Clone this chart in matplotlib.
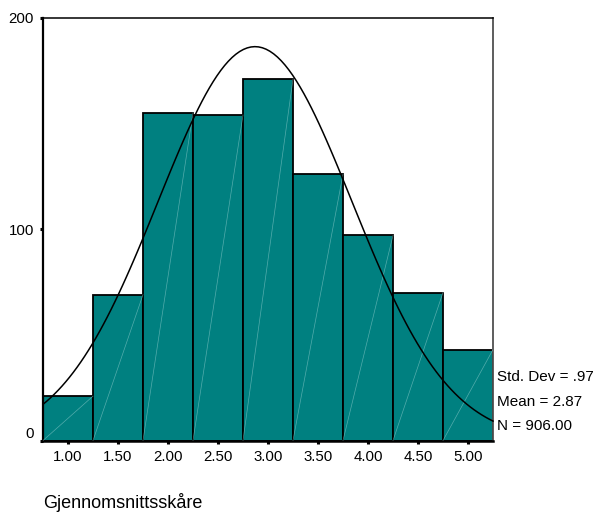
import numpy as np
import matplotlib.pyplot as plt
import matplotlib.transforms as mtransforms

plt.rcParams['font.family'] = ['Liberation Sans', 'DejaVu Sans']

# histogram counts per score bin (bin width 0.5)
bin_centers = [1.00, 1.50, 2.00, 2.50, 3.00, 3.50, 4.00, 4.50, 5.00]
counts = [21, 69, 155, 154, 171, 126, 97, 70, 43]
tick_labels = ['1.00', '1.50', '2.00', '2.50', '3.00', '3.50', '4.00', '4.50', '5.00']
y_ticks = [0, 100, 200]
mean = 2.87
std_dev = 0.97
n_total = 906
bin_width = 0.5

fig = plt.figure(figsize=(5.97, 5.14), dpi=100)
ax = fig.add_axes([43 / 597, 73.5 / 514, 450 / 597, 422.8 / 514])

ax.bar(bin_centers, counts, width=bin_width, color='#008080',
       edgecolor='black', linewidth=1.3, zorder=2)

# faint diagonal streaks inside each bar
for c, h in zip(bin_centers, counts):
    ax.plot([c - bin_width / 2, c + bin_width / 2], [0, h], color='#8ccaca',
            lw=0.5, alpha=0.6, zorder=3)

# fitted normal curve scaled to counts
x = np.linspace(0.75, 5.25, 120)
y = n_total * bin_width / (std_dev * np.sqrt(2 * np.pi)) * np.exp(-0.5 * ((x - mean) / std_dev) ** 2)
ax.plot(x, y, color='black', lw=1.1, zorder=4, clip_on=False)

ax.set_xlim(0.75, 5.25)
ax.set_ylim(0, 200)
ax.set_xticks(bin_centers)
ax.set_xticklabels(tick_labels, fontsize=10.8)
ax.set_yticks(y_ticks)
ax.set_yticklabels([str(v) for v in y_ticks], fontsize=10.8)
ax.tick_params(direction='out', length=2.5, width=2.2, pad=4)

# the bottom y label sits a bit above its tick
lbl0 = ax.get_yticklabels()[0]
lbl0.set_transform(lbl0.get_transform() + mtransforms.ScaledTranslation(0, 8 / 100, fig.dpi_scale_trans))

ax.spines['left'].set_linewidth(1.6)
ax.spines['bottom'].set_linewidth(1.8)
ax.spines['top'].set_linewidth(1.1)
ax.spines['right'].set_linewidth(1.3)
ax.spines['right'].set_color('#505050')

stats = ['Std. Dev = .97', 'Mean = %.2f' % mean, 'N = %.2f' % n_total]
for i, s in enumerate(stats):
    fig.text(497 / 597, 1 - (377 + 24.5 * i) / 514, s, fontsize=11, va='center', ha='left')

fig.text(43 / 597, 1 - 503 / 514, 'Gjennomsnittsskåre', fontsize=13, va='center', ha='left')

fig.savefig('out.png', dpi=100)
